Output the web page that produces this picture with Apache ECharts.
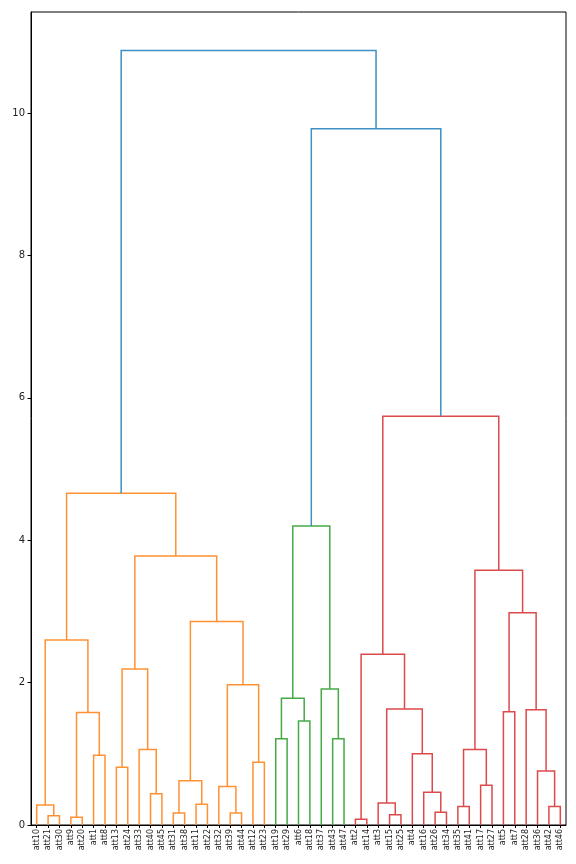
<!DOCTYPE html>
<html>
<head>
<meta charset="utf-8">
<script src="https://cdn.jsdelivr.net/npm/echarts@6/dist/echarts.min.js"></script>
<style>html,body{margin:0;padding:0;background:#fff;}#chart{width:576px;height:864px;}</style>
</head>
<body>
<div id="chart"></div>
<script>
const leaves = ['att10','att21','att30','att9','att20','att1','att8','att13','att24','att33','att40','att45','att31','att38','att11','att22','att32','att39','att44','att12','att23','att19','att29','att6','att18','att37','att43','att47','att2','att14','att3','att15','att25','att4','att16','att26','att34','att35','att41','att17','att27','att5','att7','att28','att36','att42','att46'];

// each merge: [left child, right child, height]; child = leaf name or index of an earlier merge
const merges = [
  ['att21','att30',0.13], ['att10',0,0.28], ['att9','att20',0.11], ['att1','att8',0.98],
  [2,3,1.58], [1,4,2.60], ['att13','att24',0.81], ['att40','att45',0.44],
  ['att33',7,1.06], [6,8,2.19], ['att31','att38',0.17], ['att11','att22',0.29],
  [10,11,0.62], ['att39','att44',0.17], ['att32',13,0.54], ['att12','att23',0.88],
  [14,15,1.97], [12,16,2.86], [9,17,3.78], [5,18,4.66],
  ['att19','att29',1.21], ['att6','att18',1.46], [20,21,1.78], ['att43','att47',1.21],
  ['att37',23,1.91], [22,24,4.20],
  ['att2','att14',0.08], ['att15','att25',0.145], ['att3',27,0.31], ['att26','att34',0.18],
  ['att16',29,0.46], ['att4',30,1.00], [28,31,1.63], [26,32,2.40],
  ['att35','att41',0.26], ['att17','att27',0.56], [34,35,1.06], ['att5','att7',1.59],
  ['att42','att46',0.26], ['att36',38,0.76], ['att28',39,1.62], [37,40,2.98],
  [36,41,3.58], [33,42,5.74], [25,43,9.78], [19,44,10.88]
];
const yTicks = [0, 2, 4, 6, 8, 10];

const palette = ['#3f8fc4', '#ff9133', '#46aa46', '#dc4a4c'];
const maxH = Math.max(...merges.map(m => m[2]));
const threshold = 0.7 * maxH;

const nodes = [];
function info(ref) {
  if (typeof ref === 'string') return { x: 5 + 10 * leaves.indexOf(ref), h: 0 };
  return nodes[ref];
}
merges.forEach(m => {
  const a = info(m[0]), b = info(m[1]);
  nodes.push({ x: (a.x + b.x) / 2, h: m[2] });
});
const colorOf = new Array(merges.length);
let nextColor = 1;
function assign(idx, c) {
  const m = merges[idx];
  let col = c;
  if (col == null) {
    if (m[2] >= threshold) col = null; else col = nextColor++;
  }
  colorOf[idx] = col == null ? 0 : col;
  [m[0], m[1]].forEach(ch => { if (typeof ch !== 'string') assign(ch, col); });
}
assign(merges.length - 1, null);

const links = merges.map((m, i) => {
  const a = info(m[0]), b = info(m[1]);
  return [a.x, a.h, b.x, b.h, m[2], colorOf[i]];
});

const chart = echarts.init(document.getElementById('chart'), null, { renderer: 'canvas' });
chart.setOption({
  animation: false,
  backgroundColor: '#fff',
  grid: { left: 31, right: 10, top: 12, bottom: 39, show: true, borderColor: '#000', borderWidth: 1, backgroundColor: 'transparent' },
  xAxis: [
    { type: 'value', min: 0, max: leaves.length * 10, show: false },
    {
      type: 'category', data: leaves, position: 'bottom', boundaryGap: true,
      axisLine: { show: true, lineStyle: { color: '#000', width: 1 } },
      axisTick: { show: true, alignWithLabel: true, length: 3, lineStyle: { color: '#000' } },
      axisLabel: { rotate: 90, interval: 0, fontSize: 8, color: '#222', margin: 4, fontFamily: 'DejaVu Sans' },
      splitLine: { show: false }
    }
  ],
  yAxis: {
    type: 'value', min: 0, max: 11.42, interval: 2,
    axisLine: { show: true, lineStyle: { color: '#000' } },
    axisTick: { show: true, length: 3.5, lineStyle: { color: '#000' } },
    axisLabel: { fontSize: 10, color: '#222', margin: 6, fontFamily: 'DejaVu Sans', showMaxLabel: false,
      formatter: v => yTicks.includes(v) ? String(v) : '' },
    splitLine: { show: false }
  },
  series: [{
    type: 'custom',
    xAxisIndex: 0,
    yAxisIndex: 0,
    data: links,
    encode: { x: [0, 2], y: [1, 3, 4] },
    renderItem: function (params, api) {
      const xl = api.value(0), hl = api.value(1), xr = api.value(2), hr = api.value(3), h = api.value(4), ci = api.value(5);
      const pts = [api.coord([xl, hl]), api.coord([xl, h]), api.coord([xr, h]), api.coord([xr, hr])];
      return { type: 'polyline', shape: { points: pts }, style: { stroke: palette[ci], fill: null, lineWidth: 1.5 } };
    }
  }]
});
</script>
</body>
</html>
